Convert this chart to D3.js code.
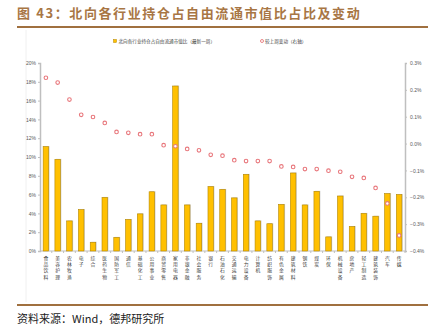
<!DOCTYPE html>
<html><head><meta charset="utf-8">
<script src="https://cdn.jsdelivr.net/npm/d3@7/dist/d3.min.js"></script>
<style>body{margin:0;background:#fff;}svg{display:block;}</style>
</head><body>
<svg id="c" width="442" height="327"></svg>
<script>
const categories = ["食品饮料","美容护理","农林牧渔","电子","综合","医药生物","国防军工","通信","基础化工","公用事业","商贸零售","家用电器","非银金融","社会服务","银行","石油石化","交通运输","电力设备","计算机","纺织服饰","有色金属","建筑材料","钢铁","煤炭","环保","机械设备","房地产","轻工制造","建筑装饰","汽车","传媒"];
const shareValues = [11.1,9.75,3.2,4.4,0.93,5.7,1.45,3.35,3.95,6.3,4.9,17.55,4.9,2.95,6.85,6.55,5.65,8.15,3.2,2.9,4.95,8.3,4.9,6.35,1.5,5.85,2.6,4.0,3.7,6.1,6.0];
const changeValues = [0.245,0.227,0.164,0.107,0.099,0.077,0.0435,0.040,0.035,0.035,-0.006,-0.010,-0.020,-0.025,-0.042,-0.045,-0.062,-0.065,-0.065,-0.065,-0.085,-0.087,-0.095,-0.095,-0.101,-0.105,-0.124,-0.128,-0.165,-0.223,-0.342];
const leftTicks = [0,2,4,6,8,10,12,14,16,18,20];
const rightTicks = [-0.4,-0.3,-0.2,-0.1,0.0,0.1,0.2,0.3];
const seriesNames = ["北向各行业持仓占自由流通市值比（最新一周）","较上周变动（右轴）"];
const titleText = "图 43：北向各行业持仓占自由流通市值比占比及变动";
const sourceText = "资料来源：Wind，德邦研究所";

const svg = d3.select("#c");
const brown = "#a0703f";
const m = {l:40, r:405, t:63, b:251};

// title
svg.append("text").attr("x",17).attr("y",18).attr("fill","#a87644")
  .attr("font-family","'Noto Sans CJK SC'").attr("font-weight","bold")
  .attr("font-size",13).attr("letter-spacing",1.6).text(titleText);
svg.append("line").attr("x1",17).attr("x2",428).attr("y1",27).attr("y2",27)
  .attr("stroke",brown).attr("stroke-width",2);
svg.append("line").attr("x1",17).attr("x2",428).attr("y1",305).attr("y2",305)
  .attr("stroke",brown).attr("stroke-width",2);
svg.append("text").attr("x",17).attr("y",323).attr("fill","#222")
  .attr("font-family","'Noto Sans CJK SC'").attr("font-size",11).text(sourceText);
svg.append("line").attr("x1",26).attr("x2",26).attr("y1",30).attr("y2",302)
  .attr("stroke","#f0f0f0").attr("stroke-width",1);

const x = d3.scaleBand().domain(categories).range([m.l, m.r]).padding(0);
const yL = d3.scaleLinear().domain([0,20]).range([m.b, m.t]);
const yR = d3.scaleLinear().domain([-0.4,0.3]).range([m.b, m.t]);

// left axis
const gL = svg.append("g").attr("transform",`translate(${m.l},0)`)
  .call(d3.axisLeft(yL).tickValues(leftTicks).tickFormat(d=>d+"%").tickSize(2).tickPadding(2));
gL.select(".domain").attr("stroke","#bfbfbf").attr("stroke-width",1.5);
gL.selectAll(".tick line").attr("stroke","#bfbfbf");
gL.selectAll("text").attr("font-size",5).attr("fill","#595959").attr("font-family","'Liberation Sans'");

// right axis
const gR = svg.append("g").attr("transform",`translate(${m.r},0)`)
  .call(d3.axisRight(yR).tickValues(rightTicks).tickFormat(d=>d3.format(".1f")(d)+"%").tickSize(2).tickPadding(3));
gR.select(".domain").attr("stroke","#bfbfbf").attr("stroke-width",1.5);
gR.selectAll(".tick line").attr("stroke","#bfbfbf");
gR.selectAll("text").attr("font-size",5).attr("fill","#595959").attr("font-family","'Liberation Sans'");

// x axis line + ticks between categories
const gX = svg.append("g");
gX.append("line").attr("x1",m.l).attr("x2",m.r).attr("y1",m.b).attr("y2",m.b)
  .attr("stroke","#bfbfbf").attr("stroke-width",1);
gX.selectAll("line.t").data(categories).enter().append("line").attr("class","t")
  .attr("x1",d=>x(d)+x.bandwidth()).attr("x2",d=>x(d)+x.bandwidth())
  .attr("y1",m.b).attr("y2",m.b+2).attr("stroke","#bfbfbf");
// vertical labels, one text per character
categories.forEach(d=>{
  const cx = x(d)+x.bandwidth()/2;
  Array.from(d).forEach((ch,i)=>{
    gX.append("text").attr("x",cx).attr("y",m.b+9+i*6.2)
      .attr("font-size",4.8).attr("fill","#404040").attr("font-family","'Noto Sans CJK SC'")
      .attr("text-anchor","middle").text(ch);
  });
});

// bars
const bw = 5.5;
svg.append("g").selectAll("rect.sh").data(categories).enter().append("rect")
  .attr("x",(d)=>x(d)+x.bandwidth()/2-bw/2+1).attr("width",bw)
  .attr("y",(d,i)=>yL(shareValues[i])-0.5).attr("height",(d,i)=>m.b-yL(shareValues[i])+0.5)
  .attr("fill","#d6d6d6");
svg.append("g").selectAll("rect.b").data(categories).enter().append("rect")
  .attr("x",(d)=>x(d)+x.bandwidth()/2-bw/2).attr("width",bw)
  .attr("y",(d,i)=>yL(shareValues[i])).attr("height",(d,i)=>m.b-yL(shareValues[i]))
  .attr("fill","#ffc000").attr("stroke","#b38600").attr("stroke-width",0.6);

// dots
svg.append("g").selectAll("circle").data(categories).enter().append("circle")
  .attr("cx",d=>x(d)+x.bandwidth()/2).attr("cy",(d,i)=>yR(changeValues[i]))
  .attr("r",1.8).attr("fill","#fff").attr("stroke","#e8777c").attr("stroke-width",1.1);

// legend
const lg = svg.append("g").attr("font-family","'Noto Sans CJK SC'").attr("font-size",4.6).attr("fill","#404040");
lg.append("rect").attr("x",113.5).attr("y",39.5).attr("width",3).attr("height",3)
  .attr("fill","#ffc000").attr("stroke","#b38600").attr("stroke-width",0.5);
lg.append("text").attr("x",118.5).attr("y",42.8).text(seriesNames[0]);
lg.append("circle").attr("cx",262).attr("cy",41).attr("r",1.5).attr("fill","#fff")
  .attr("stroke","#e8777c").attr("stroke-width",0.9);
lg.append("text").attr("x",265).attr("y",42.8).text(seriesNames[1]);
</script>
</body></html>
